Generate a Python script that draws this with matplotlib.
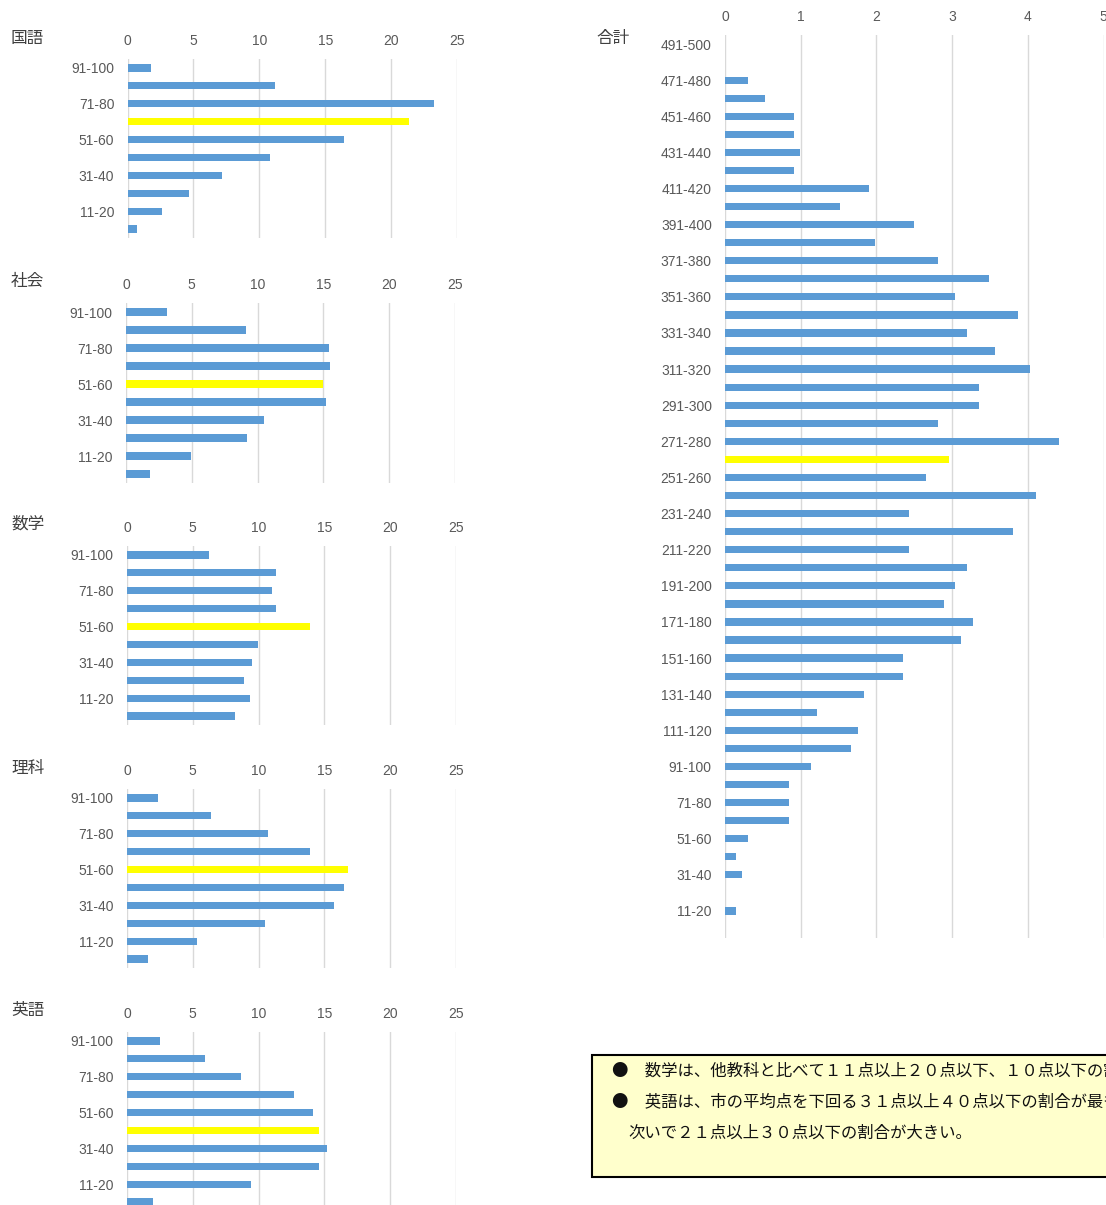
import matplotlib.pyplot as plt
from matplotlib.patches import Rectangle

plt.rcParams['font.family'] = ['Liberation Sans', 'Noto Sans CJK JP']

# score bins for each subject (top to bottom)
subject_bins = ['91-100', '81-90', '71-80', '61-70', '51-60',
                '41-50', '31-40', '21-30', '11-20', '0-10']

kokugo = [1.82, 11.17, 23.26, 21.33, 16.43, 10.79, 7.18, 4.63, 2.63, 0.73]
shakai = [3.14, 9.12, 15.43, 15.5, 14.97, 15.2, 10.51, 9.19, 4.96, 1.80]
suugaku = [6.26, 11.32, 11.02, 11.32, 13.9, 9.98, 9.52, 8.92, 9.37, 8.23]
rika = [2.38, 6.38, 10.71, 13.9, 16.77, 16.46, 15.70, 10.49, 5.34, 1.62]
eigo = [2.48, 5.95, 8.69, 12.72, 14.16, 14.59, 15.22, 14.61, 9.45, 1.98]

subjects = ['国語', '社会', '数学', '理科', '英語']
subject_values = [kokugo, shakai, suugaku, rika, eigo]
subject_avg_bin = [3, 4, 4, 4, 5]   # bin holding the city average (yellow)

total_bins = ['491-500', '481-490', '471-480', '461-470', '451-460', '441-450',
              '431-440', '421-430', '411-420', '401-410', '391-400', '381-390',
              '371-380', '361-370', '351-360', '341-350', '331-340', '321-330',
              '311-320', '301-310', '291-300', '281-290', '271-280', '261-270',
              '251-260', '241-250', '231-240', '221-230', '211-220', '201-210',
              '191-200', '181-190', '171-180', '161-170', '151-160', '141-150',
              '131-140', '121-130', '111-120', '101-110', '91-100', '81-90',
              '71-80', '61-70', '51-60', '41-50', '31-40', '21-30', '11-20', '0-10']
total = [0, 0, 0.30, 0.53, 0.91, 0.91, 0.99, 0.91, 1.90, 1.52,
         2.50, 1.98, 2.81, 3.49, 3.04, 3.87, 3.19, 3.57, 4.03, 3.35,
         3.35, 2.81, 4.41, 2.96, 2.66, 4.10, 2.43, 3.80, 2.43, 3.19,
         3.04, 2.89, 3.27, 3.12, 2.35, 2.35, 1.83, 1.22, 1.75, 1.67,
         1.14, 0.84, 0.84, 0.84, 0.30, 0.15, 0.23, 0, 0.15, 0]
total_avg_bin = 23

notes = ['●　数学は、他教科と比べて１１点以上２０点以下、１０点以下の割合が大きい。',
         '●　英語は、市の平均点を下回る３１点以上４０点以下の割合が最も大きく、',
         '次いで２１点以上３０点以下の割合が大きい。']

W, H = 1106, 1205
BLUE = '#5B9BD5'
YELLOW = '#FFFF00'
GRID = '#D9D9D9'
LABEL = '#595959'

fig = plt.figure(figsize=(W / 100, H / 100), dpi=100)


def px_axes(left, top, right, bottom):
    return fig.add_axes([left / W, 1 - bottom / H, (right - left) / W, (bottom - top) / H])


def draw_hbar(ax, bins, values, avg_idx, xmax, step):
    colors = [YELLOW if i == avg_idx else BLUE for i in range(len(values))]
    ax.barh(range(len(values)), values, height=0.4, color=colors, zorder=3)
    ax.set_ylim(len(values) - 0.5, -0.5)
    ax.set_xlim(0, xmax)
    ax.set_xticks(range(0, xmax + 1, step))
    ax.set_yticks(range(0, len(bins), 2))
    ax.set_yticklabels(bins[::2])
    ax.xaxis.tick_top()
    ax.tick_params(axis='x', length=0, pad=7.8, labelsize=10, labelcolor=LABEL)
    ax.tick_params(axis='y', length=0, pad=9.5, labelsize=10, labelcolor=LABEL)
    ax.grid(axis='x', color=GRID, linewidth=1, zorder=0)
    for s in ax.spines.values():
        s.set_visible(False)


# left column: one chart per subject
boxes = [(127.5, 59, 457, 238), (126, 303, 455, 483), (127, 546, 456, 725),
         (127, 789, 456, 968), (127, 1032, 456, 1211)]
title_y = [38, 281, 524, 768, 1011]
for name, vals, avg, box, ty in zip(subjects, subject_values, subject_avg_bin, boxes, title_y):
    ax = px_axes(*box)
    draw_hbar(ax, subject_bins, vals, avg, 25, 5)
    fig.text(11 / W, 1 - ty / H, name, ha='left', va='center', fontsize=12,
             color='#404040', family=['Noto Sans CJK JP'])

# right: total score chart
ax = px_axes(725, 35, 1103.7, 938)
draw_hbar(ax, total_bins, total, total_avg_bin, 5, 1)
fig.text(596 / W, 1 - 38 / H, '合計', ha='left', va='center', fontsize=12,
         color='#404040', family=['Noto Sans CJK JP'])

# comment box (cut at right edge, as in the source)
fig.patches.append(Rectangle((592 / W, 1 - 1177 / H), 530 / W, 122 / H,
                             transform=fig.transFigure, facecolor='#FFFFCC',
                             edgecolor='black', linewidth=1.5))
for (x, y), line in zip([(612, 1071), (612, 1102), (628, 1133)], notes):
    fig.text(x / W, 1 - y / H, line, ha='left', va='center', fontsize=11.8,
             color='#111111', family=['Noto Sans CJK JP'])

fig.savefig('out.png', dpi=100)
